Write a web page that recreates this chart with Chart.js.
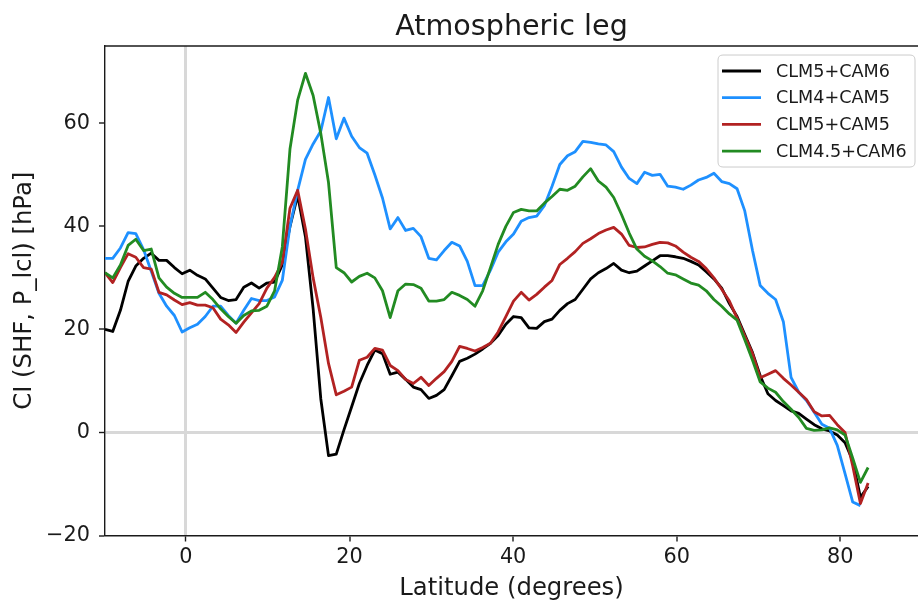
<!DOCTYPE html>
<html>
<head>
<meta charset="utf-8">
<script src="https://cdn.jsdelivr.net/npm/chart.js@4.4.1/dist/chart.umd.min.js"></script>
<style>
  html, body { margin: 0; padding: 0; background: #ffffff; }
  #wrap { width: 918px; height: 603px; position: relative; }
</style>
</head>
<body>
<div id="wrap"><canvas id="c" width="918" height="603"></canvas></div>
<script>
// Latitude (degrees) of each sample
const latitudes = [-9.90,-8.95,-8.01,-7.07,-6.13,-5.18,-4.24,-3.30,-2.36,-1.41,
  -0.47,0.47,1.41,2.36,3.30,4.24,5.18,6.13,7.07,8.01,
  8.95,9.90,10.84,11.78,12.72,13.66,14.61,15.55,16.49,17.43,
  18.38,19.32,20.26,21.20,22.15,23.09,24.03,24.97,25.92,26.86,
  27.80,28.74,29.69,30.63,31.57,32.51,33.46,34.40,35.34,36.28,
  37.23,38.17,39.11,40.05,40.99,41.94,42.88,43.82,44.76,45.71,
  46.65,47.59,48.53,49.48,50.42,51.36,52.30,53.25,54.19,55.13,
  56.07,57.02,57.96,58.90,59.84,60.79,61.73,62.67,63.61,64.55,
  65.50,66.44,67.38,68.32,69.27,70.21,71.15,72.09,73.04,73.98,
  74.92,75.86,76.81,77.75,78.69,79.63,80.58,81.52,82.46,83.40];

const clm5cam6 = [20.0,19.6,23.7,29.3,32.3,33.8,34.8,33.4,33.4,32.0,
  30.8,31.5,30.5,29.8,28.0,26.2,25.6,25.8,28.2,29.0,
  28.0,29.0,29.2,32.5,40.0,46.0,38.0,24.0,6.5,-4.5,
  -4.2,0.5,5.0,9.5,13.0,16.0,15.3,11.3,11.7,10.3,
  8.8,8.3,6.6,7.2,8.3,11.0,13.8,14.4,15.2,16.2,
  17.3,18.8,21.0,22.5,22.3,20.3,20.2,21.5,22.0,23.7,
  25.0,25.8,27.8,29.8,31.0,31.8,32.8,31.5,31.0,31.3,
  32.3,33.3,34.3,34.3,34.1,33.8,33.2,32.5,31.2,29.8,
  28.0,25.0,22.5,19.0,15.5,11.0,7.5,6.2,5.2,4.2,
  3.7,2.6,1.5,0.7,0.3,-0.5,-2.0,-5.5,-12.6,-10.5];

const clm4cam5 = [33.8,33.8,35.8,38.8,38.6,35.5,31.3,27.0,24.5,22.7,
  19.5,20.3,21.0,22.5,24.5,24.5,22.7,21.2,23.7,26.0,
  25.6,25.6,26.3,29.5,40.0,47.0,53.0,56.0,58.5,65.0,
  57.0,61.0,57.5,55.3,54.2,50.0,45.5,39.5,41.7,39.2,
  39.6,38.0,33.8,33.5,35.3,36.9,36.2,33.2,28.5,28.5,
  31.5,35.0,37.0,38.5,41.0,41.7,42.0,44.0,47.8,52.0,
  53.7,54.5,56.5,56.3,56.0,55.8,54.5,51.5,49.3,48.3,
  50.5,49.9,50.1,47.8,47.6,47.2,48.0,49.0,49.5,50.3,
  48.7,48.3,47.3,43.0,35.3,28.5,27.0,25.8,21.5,10.7,
  7.8,6.2,3.9,1.6,0.8,-2.5,-8.0,-13.5,-14.2,null];

const clm5cam5 = [31.0,29.1,32.0,34.7,34.0,32.0,31.7,27.2,26.7,25.7,
  24.8,25.2,24.7,24.7,24.2,22.0,20.9,19.4,21.4,23.2,
  25.0,28.0,30.1,33.0,43.5,47.0,39.5,30.0,22.3,13.4,
  7.3,8.0,8.8,14.0,14.6,16.3,16.0,13.0,12.0,10.3,
  9.5,10.7,9.1,10.5,11.8,13.8,16.7,16.3,15.8,16.5,
  17.3,19.5,22.5,25.5,27.2,25.7,26.8,28.2,29.5,32.6,
  33.8,35.1,36.7,37.6,38.6,39.3,39.8,38.5,36.3,35.9,
  36.0,36.5,36.9,36.8,36.2,35.0,34.0,33.2,31.8,30.0,
  27.8,25.5,22.2,18.7,15.3,10.6,11.3,12.0,10.5,9.2,
  7.8,6.4,4.0,3.2,3.3,1.5,0.0,-6.5,-13.8,-9.8];

const clm45cam6 = [31.0,30.0,32.5,36.3,37.5,35.3,35.6,30.0,28.2,27.0,
  26.2,26.2,26.2,27.2,25.8,24.0,22.5,21.2,22.7,23.6,
  23.7,24.5,27.5,36.0,55.0,64.5,69.7,65.4,58.0,48.5,
  32.0,31.0,29.2,30.3,30.9,30.0,27.5,22.3,27.5,28.8,
  28.7,28.0,25.5,25.5,25.8,27.2,26.6,25.8,24.5,27.5,
  32.0,36.5,40.0,42.7,43.3,43.0,43.0,44.5,45.8,47.2,
  47.0,47.8,49.6,51.2,48.8,47.6,45.6,42.3,38.7,35.6,
  34.2,33.3,32.2,30.9,30.6,29.8,29.0,28.6,27.5,25.8,
  24.5,23.0,21.8,18.0,14.0,9.8,8.6,7.8,6.0,4.5,
  2.9,0.8,0.4,0.5,0.9,0.5,-0.5,-5.0,-9.7,-6.8];

const seriesNames = ["CLM5+CAM6", "CLM4+CAM5", "CLM5+CAM5", "CLM4.5+CAM6"];
const seriesColors = ["#000000", "#1e90ff", "#b22222", "#228b22"];
const seriesValues = [clm5cam6, clm4cam5, clm5cam5, clm45cam6];
const xTicks = [0, 20, 40, 60, 80];
const yTicks = [-20, 0, 20, 40, 60];

const FONT = "'DejaVu Sans', Verdana, sans-serif";
const INK = "#1a1a1a";

const datasets = seriesNames.map((name, k) => ({
  label: name,
  data: latitudes.map((la, i) => ({ x: la, y: seriesValues[k][i] })),
  borderColor: seriesColors[k],
  backgroundColor: seriesColors[k],
  borderWidth: 2.8,
  pointRadius: 0,
  tension: 0,
  fill: false,
  spanGaps: false,
  borderJoinStyle: 'round',
  order: seriesNames.length - k
}));

const frameAndLegend = {
  id: 'frameAndLegend',
  afterDraw(chart) {
    const ctx = chart.ctx;
    const a = chart.chartArea;
    ctx.save();
    // top spine
    ctx.strokeStyle = INK;
    ctx.lineWidth = 1.4;
    ctx.beginPath();
    ctx.moveTo(a.left - 0.7, a.top);
    ctx.lineTo(a.right, a.top);
    ctx.stroke();

    // legend box
    const bw = 197, bh = 112;
    const bx = a.right - 3 - bw, by = a.top + 9;
    const r = 5;
    ctx.beginPath();
    ctx.moveTo(bx + r, by);
    ctx.lineTo(bx + bw - r, by);
    ctx.quadraticCurveTo(bx + bw, by, bx + bw, by + r);
    ctx.lineTo(bx + bw, by + bh - r);
    ctx.quadraticCurveTo(bx + bw, by + bh, bx + bw - r, by + bh);
    ctx.lineTo(bx + r, by + bh);
    ctx.quadraticCurveTo(bx, by + bh, bx, by + bh - r);
    ctx.lineTo(bx, by + r);
    ctx.quadraticCurveTo(bx, by, bx + r, by);
    ctx.closePath();
    ctx.fillStyle = 'rgba(255,255,255,0.8)';
    ctx.fill();
    ctx.strokeStyle = '#cccccc';
    ctx.lineWidth = 1;
    ctx.stroke();

    ctx.font = "17.6px " + FONT;
    ctx.textBaseline = 'middle';
    ctx.textAlign = 'left';
    chart.data.datasets.forEach((ds, i) => {
      const yy = by + 16 + i * 26.7;
      ctx.strokeStyle = ds.borderColor;
      ctx.lineWidth = 2.8;
      ctx.beginPath();
      ctx.moveTo(bx + 4, yy);
      ctx.lineTo(bx + 43, yy);
      ctx.stroke();
      ctx.fillStyle = INK;
      ctx.fillText(ds.label, bx + 58, yy + 1);
    });
    ctx.restore();
  }
};

new Chart(document.getElementById('c'), {
  type: 'line',
  data: { datasets },
  plugins: [frameAndLegend],
  options: {
    responsive: false,
    animation: false,
    devicePixelRatio: 1,
    layout: { padding: { left: 0, right: 0, top: 0, bottom: 0 } },
    plugins: {
      legend: { display: false },
      tooltip: { enabled: false },
      title: {
        display: true,
        fullSize: false,
        text: 'Atmospheric leg',
        color: INK,
        font: { family: FONT, size: 28.6, weight: 'normal', lineHeight: 1.2 },
        padding: { top: 10, bottom: 1.7 }
      }
    },
    scales: {
      x: {
        type: 'linear',
        min: -9.895,
        max: 89.5,
        afterFit(scale) { scale.height = 67.5; },
        afterBuildTicks(scale) { scale.ticks = xTicks.map(v => ({ value: v })); },
        border: { display: true, color: INK, width: 1.4 },
        grid: {
          drawOnChartArea: true,
          drawTicks: true,
          tickLength: 6,
          tickWidth: 1.4,
          tickColor: INK,
          color: (c) => (c.tick && c.tick.value === 0) ? '#d8d8d8' : 'rgba(0,0,0,0)',
          lineWidth: (c) => (c.tick && c.tick.value === 0) ? 3 : 0
        },
        ticks: {
          color: INK,
          padding: 4,
          maxRotation: 0,
          includeBounds: false,
          font: { family: FONT, size: 20.8 },
          callback: (v) => String(v).replace('-', '\u2212')
        },
        title: {
          display: true,
          text: 'Latitude (degrees)',
          color: INK,
          font: { family: FONT, size: 24.3, lineHeight: 1.2 },
          padding: { top: 1, bottom: 0 }
        }
      },
      y: {
        type: 'linear',
        min: -20,
        max: 75,
        afterFit(scale) { scale.width = 105; },
        afterBuildTicks(scale) { scale.ticks = yTicks.map(v => ({ value: v })); },
        border: { display: true, color: INK, width: 1.4 },
        grid: {
          drawOnChartArea: true,
          drawTicks: true,
          tickLength: 6,
          tickWidth: 1.4,
          tickColor: INK,
          color: (c) => (c.tick && c.tick.value === 0) ? '#d8d8d8' : 'rgba(0,0,0,0)',
          lineWidth: (c) => (c.tick && c.tick.value === 0) ? 3 : 0
        },
        ticks: {
          color: INK,
          padding: 9,
          includeBounds: false,
          font: { family: FONT, size: 20.8 },
          callback: (v) => String(v).replace('-', '\u2212')
        },
        title: {
          display: true,
          text: 'CI (SHF, P_lcl) [hPa]',
          color: INK,
          font: { family: FONT, size: 24.3, lineHeight: 1.2 },
          padding: { top: 10, bottom: 0 }
        }
      }
    }
  }
});
</script>
</body>
</html>
